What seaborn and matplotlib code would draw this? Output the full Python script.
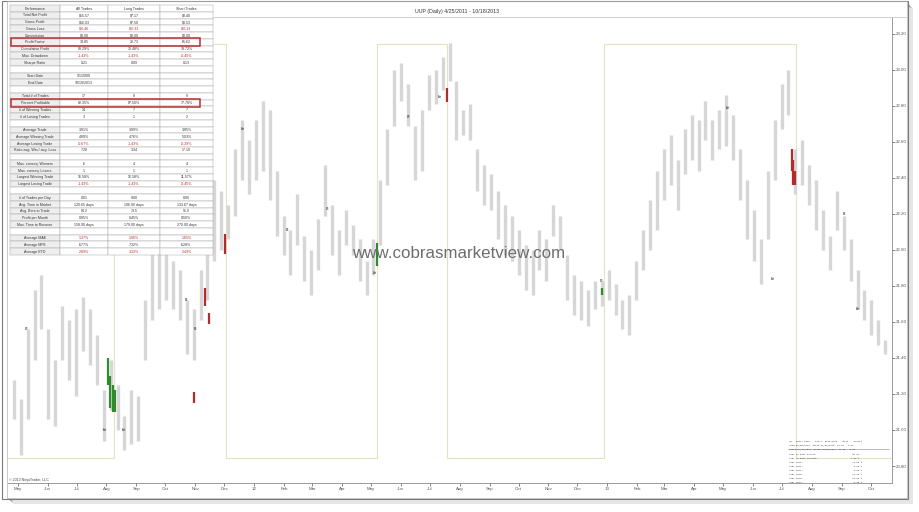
import numpy as np
import pandas as pd
import matplotlib
matplotlib.use('Agg')
import matplotlib.pyplot as plt
import matplotlib.dates as mdates
from matplotlib.patches import Rectangle
import seaborn as sns

TITLE = 'UUP (Daily) 4/25/2011 - 10/18/2013'
FIRST_WEEK = '2011-04-27'
LAST_WEEK = '2013-10-16'

# weekly high / low
WEEK_HIGH = [21.28, 21.17, 21.56, 21.78, 21.86, 21.56, 21.39, 21.69, 21.61, 21.67,
             21.74, 21.67, 21.53, 21.22, 21.39, 21.25, 21.08, 21.22, 21.19, 21.72,
             22.06, 22.00, 22.06, 21.94, 21.89, 21.72, 21.67, 21.89, 22.00, 22.39,
             22.33, 22.25, 22.56, 22.72, 22.61, 22.72, 22.83, 22.78, 22.44, 22.19,
             22.11, 22.31, 22.08, 22.00, 22.17, 22.47, 22.25, 22.11, 22.22, 22.14,
             22.06, 21.94, 22.06, 22.39, 22.67, 23.00, 23.04, 22.92, 22.69, 22.78,
             22.97, 23.00, 23.07, 23.15, 22.94, 22.78, 22.81, 22.56, 22.47, 22.42,
             22.33, 22.25, 22.19, 22.11, 22.03, 22.00, 22.11, 22.06, 22.25, 22.19,
             21.97, 21.86, 21.83, 21.78, 21.83, 21.83, 21.89, 21.81, 21.72, 21.75,
             21.94, 22.11, 22.28, 22.44, 22.56, 22.64, 22.50, 22.67, 22.75, 22.72,
             22.83, 22.72, 22.78, 22.86, 22.75, 22.56, 22.39, 22.22, 22.06, 22.44,
             22.72, 22.92, 23.00, 22.56, 22.61, 22.47, 22.39, 22.22, 22.08, 22.33,
             22.19, 22.06, 21.89, 21.78, 21.72, 21.61, 21.50]
WEEK_LOW = [21.06, 20.86, 21.06, 21.39, 21.56, 21.06, 21.02, 21.39, 21.28, 21.19,
            21.44, 21.36, 21.25, 20.94, 21.11, 21.00, 20.89, 20.92, 20.94, 21.39,
            21.61, 21.67, 21.72, 21.67, 21.61, 21.42, 21.39, 21.61, 21.72, 21.94,
            22.00, 22.06, 22.19, 22.39, 22.31, 22.39, 22.44, 22.28, 22.08, 21.97,
            21.86, 22.03, 21.83, 21.75, 21.89, 22.19, 21.97, 21.86, 22.03, 21.97,
            21.83, 21.75, 21.86, 22.03, 22.36, 22.69, 22.83, 22.69, 22.39, 22.44,
            22.78, 22.81, 22.89, 22.94, 22.61, 22.64, 22.61, 22.33, 22.25, 22.22,
            22.06, 21.97, 21.94, 21.86, 21.78, 21.75, 21.89, 21.83, 22.08, 22.00,
            21.72, 21.64, 21.61, 21.58, 21.67, 21.69, 21.72, 21.64, 21.56, 21.53,
            21.72, 21.89, 22.00, 22.11, 22.28, 22.36, 22.22, 22.42, 22.50, 22.44,
            22.61, 22.50, 22.56, 22.58, 22.50, 22.28, 22.06, 21.94, 21.81, 22.06,
            22.39, 22.67, 22.75, 22.31, 22.36, 22.25, 22.11, 22.00, 21.89, 22.11,
            22.00, 21.83, 21.67, 21.61, 21.53, 21.47, 21.42]

# bars painted by the strategy while in a trade
TRADE_DATES = ['2011-08-03', '2011-08-05', '2011-08-08', '2011-08-10', '2011-10-31',
               '2011-11-11', '2011-11-15', '2011-12-02', '2012-05-07', '2012-07-19',
               '2012-12-27', '2013-07-11', '2013-07-12', '2013-07-15']
TRADE_HIGH = [21.40, 21.30, 21.25, 21.22, 21.21, 21.79, 21.65, 22.09, 22.04, 22.90,
              21.79, 22.56, 22.50, 22.44]
TRADE_LOW = [21.25, 21.12, 21.10, 21.10, 21.15, 21.69, 21.59, 21.98, 21.91, 22.82,
             21.75, 22.44, 22.36, 22.36]
TRADE_SIDE = ['long', 'long', 'long', 'long', 'short', 'short', 'short', 'short',
              'long', 'short', 'long', 'short', 'short', 'short']

# position switches (square line along top / bottom of the panel)
SWITCH_DATES = ['2011-04-21', '2011-08-09', '2011-12-03', '2012-05-07', '2012-07-19',
                '2012-12-29', '2013-07-16', '2013-10-23']
SWITCH_LEVEL = ['low', 'high', 'low', 'high', 'low', 'high', 'low']

# tiny signal labels
SIGNAL_DATES = ['2011-05-10', '2011-07-30', '2011-08-19', '2011-10-23', '2011-11-01',
                '2011-12-20', '2012-02-05', '2012-03-17', '2012-05-05', '2012-06-09',
                '2012-07-11', '2012-12-26', '2013-05-06', '2013-06-22', '2013-09-04',
                '2013-09-18']
SIGNAL_PRICE = [21.56, 21.00, 21.00, 21.72, 21.56, 22.67, 22.11, 22.23, 21.87, 22.74,
                22.85, 21.83, 22.79, 21.84, 22.20, 21.67]
SIGNAL_TEXT = ['BS', 'Exit', 'Exit', 'SE', 'SE', 'Exit', 'SE', 'BS', 'Exit', 'BS',
               'Exit', 'BS', 'Exit', 'Exit', 'SE', 'Exit']

PERF_ROWS = [
    ('Performance', 'All Trades', 'Long Trades', 'Short Trades'),
    ('Total Net Profit', '$15.57', '$7.17', '$8.40'),
    ('Gross Profit', '$16.03', '$7.50', '$8.53'),
    ('Gross Loss', '$-0.46', '$-0.33', '$-0.13'),
    ('Commission', '$0.00', '$0.00', '$0.00'),
    ('Profit Factor', '34.85', '22.73', '65.62'),
    ('Cumulative Profit', '89.29%', '35.48%', '39.72%'),
    ('Max. Drawdown', '-1.43%', '-1.43%', '-0.45%'),
    ('Sharpe Ratio', '0.21', '0.09', '0.13'),
    ('', '', '', ''),
    ('Start Date', '1/1/2000', '', ''),
    ('End Date', '10/19/2013', '', ''),
    ('', '', '', ''),
    ('Total # of Trades', '17', '8', '9'),
    ('Percent Profitable', '82.35%', '87.50%', '77.78%'),
    ('# of Winning Trades', '14', '7', '7'),
    ('# of Losing Trades', '3', '1', '2'),
    ('', '', '', ''),
    ('Average Trade', '3.91%', '3.99%', '3.85%'),
    ('Average Winning Trade', '4.89%', '4.76%', '5.03%'),
    ('Average Losing Trade', '-0.67%', '-1.43%', '-0.29%'),
    ('Ratio avg. Win / avg. Loss', '7.28', '3.34', '17.10'),
    ('', '', '', ''),
    ('Max. conseq. Winners', '6', '4', '4'),
    ('Max. conseq. Losers', '1', '1', '1'),
    ('Largest Winning Trade', '16.58%', '16.58%', '11.57%'),
    ('Largest Losing Trade', '-1.43%', '-1.43%', '-0.45%'),
    ('', '', '', ''),
    ('# of Trades per Day', '0.01', '0.00', '0.00'),
    ('Avg. Time in Market', '120.65 days', '106.00 days', '133.67 days'),
    ('Avg. Bars in Trade', '83.2', '73.5', '91.9'),
    ('Profit per Month', '0.95%', '0.45%', '0.50%'),
    ('Max. Time to Recover', '158.00 days', '179.00 days', '270.00 days'),
    ('', '', '', ''),
    ('Average MAE', '1.37%', '1.06%', '1.65%'),
    ('Average MFE', '6.77%', '7.32%', '6.28%'),
    ('Average ETD', '2.89%', '3.33%', '2.43%'),
]
RED_ROWS = ['Gross Loss', 'Max. Drawdown', 'Average Losing Trade',
            'Largest Losing Trade', 'Average MAE', 'Average ETD']
BOXED_ROWS = ['Profit Factor', 'Percent Profitable']

SUMMARY_LINES = [
    'Sp   Entry Date    Entry  Exit Date    Exit    Profit',
    'Long 05/06/2013  ##### 07/10/2013  ##.##   #.##',
    'Short 07/11/2013  ##### 10/18/2013  ##.##   #.##',
    'Year To Date Profit:                          $1.06',
    'Year To Date Percent:                        4.85 %',
    'Year 2013:                                    11.60 %',
    'Year 2012:                                     5.00 %',
    'Year 2011:                                     5.00 %',
    'Year 2010:                                    11.70 %',
    'Year 2009:                                    20.00 %',
    'Year 2007:                                     5.30 %',
]

GRAY_BAR = '#d6d6d6'
RED = '#b52b2b'
GREEN = '#2e8b2e'
LINE_Y = '#e6e2bf'

sns.set_theme(style='white')
plt.rcParams['font.family'] = ['Liberation Sans', 'DejaVu Sans']

W, H = 920, 512
fig = plt.figure(figsize=(W / 100, H / 100), dpi=100)
fig.patch.set_facecolor('white')

# ---- background: drop shadow + white sheet
bg = fig.add_axes([0, 0, 1, 1], zorder=0)
bg.set_xlim(0, W)
bg.set_ylim(H, 0)
bg.axis('off')
for k, g in enumerate(['#9a9a9a', '#b4b4b4', '#cfcfcf', '#e6e6e6']):
    bg.add_patch(Rectangle((10 + k, 5 + k), 900, 496, fc=g, ec='none'))
bg.add_patch(Rectangle((2, 1), 906, 498, fc='white', ec='#7a7a7a', lw=0.8))

# ---- price panel
ax = fig.add_axes([8 / W, (H - 483) / H, 884 / W, 466 / H], zorder=2)
ax.patch.set_alpha(0)

weeks = pd.date_range(FIRST_WEEK, LAST_WEEK, periods=len(WEEK_HIGH))
bars = pd.DataFrame({
    'date': np.concatenate([weeks, weeks]),
    'price': np.concatenate([WEEK_HIGH, WEEK_LOW]),
    'bar': np.concatenate([np.arange(len(weeks)), np.arange(len(weeks))]),
})
sns.lineplot(data=bars, x='date', y='price', units='bar', estimator=None,
             color=GRAY_BAR, lw=2.4, solid_capstyle='butt', ax=ax, legend=False)

trades = pd.DataFrame({'date': pd.to_datetime(TRADE_DATES), 'hi': TRADE_HIGH,
                       'lo': TRADE_LOW, 'side': TRADE_SIDE})
for side, col in [('long', GREEN), ('short', RED)]:
    sub = trades[trades.side == side]
    ax.vlines(sub.date, sub.lo, sub.hi, color=col, lw=1.6, zorder=3)

sw = pd.to_datetime(SWITCH_DATES)
top_lvl, bot_lvl = 23.144, 20.844
xs, ys = [], []
for i, lvl in enumerate(SWITCH_LEVEL):
    yv = top_lvl if lvl == 'high' else bot_lvl
    xs += [sw[i], sw[i + 1]]
    ys += [yv, yv]
ax.plot(xs, ys, color=LINE_Y, lw=0.8, zorder=1)

for d, p, t in zip(pd.to_datetime(SIGNAL_DATES), SIGNAL_PRICE, SIGNAL_TEXT):
    ax.text(d, p, t, fontsize=1.8, color='#222222', ha='center', va='center', zorder=4)

ax.set_xlim(pd.Timestamp('2011-04-21'), pd.Timestamp('2013-10-23'))
ax.set_ylim(20.7056, 23.294)
ax.yaxis.tick_right()
ax.set_yticks([20.8, 21.0, 21.2, 21.4, 21.6, 21.8, 22.0, 22.2, 22.4, 22.6, 22.8, 23.0, 23.2])
ax.yaxis.set_major_formatter(plt.FormatStrFormatter('%.2f'))
ax.xaxis.set_major_locator(mdates.MonthLocator())
ax.xaxis.set_major_formatter(plt.FuncFormatter(
    lambda v, _: mdates.num2date(v).strftime('%y') if mdates.num2date(v).month == 1
    else mdates.num2date(v).strftime('%b')))
ax.tick_params(axis='both', labelsize=3.2, colors='#555555', length=2, width=0.5,
               direction='out', pad=1)
ax.tick_params(axis='y', right=True, left=False)
ax.tick_params(axis='x', bottom=True)
ax.set_xlabel('')
ax.set_ylabel('')
for s in ['top', 'left']:
    ax.spines[s].set_visible(False)
for s in ['right', 'bottom']:
    ax.spines[s].set_color('#8c8c8c')
    ax.spines[s].set_linewidth(0.6)

# ---- overlay in pixel coordinates
ov = fig.add_axes([0, 0, 1, 1], zorder=5)
ov.set_xlim(0, W)
ov.set_ylim(H, 0)
ov.axis('off')
ov.patch.set_alpha(0)

ov.add_patch(Rectangle((7, 1), 900, 497, fc='none', ec='#b0b0b0', lw=0.5))
ov.plot([213, 907], [17, 17], color='#c8c8c8', lw=0.6)

ov.text(457, 12, TITLE, fontsize=3.8, color='#333333', ha='center', va='center')
ov.text(459, 253, 'www.cobrasmarketview.com', fontsize=12.2, color='#6e6e6e',
        ha='center', va='center')
ov.text(9, 482, '\u00a9 2013 NinjaTrader, LLC', fontsize=2.6, color='#444444',
        ha='left', va='bottom')

# performance table
col_x = [10, 60, 108, 160, 213]
top, row_h = 5, 250 / len(PERF_ROWS)
for r, row in enumerate(PERF_ROWS):
    y0 = top + r * row_h
    red = row[0] in RED_ROWS
    for c in range(4):
        fc = '#eeeeee' if (c == 0 and row[0]) else 'white'
        ov.add_patch(Rectangle((col_x[c], y0), col_x[c + 1] - col_x[c], row_h,
                               fc=fc, ec='#a8a8a8', lw=0.35, zorder=6))
        if row[c]:
            color = RED if (red and c > 0) else '#333333'
            ov.text((col_x[c] + col_x[c + 1]) / 2, y0 + row_h / 2 + 0.2, row[c],
                    fontsize=2.6, color=color, ha='center', va='center', zorder=7)
    if row[0] in BOXED_ROWS:
        ov.add_patch(Rectangle((11, y0 - 0.6), 189, row_h + 1.2, fc='none',
                               ec='#b23030', lw=1.1, zorder=8))

# summary block bottom right
ov.plot([788, 889], [448.5, 448.5], color='#888888', lw=0.4, zorder=6)
for i, line in enumerate(SUMMARY_LINES):
    yy = 441 + i * 3.9 + (2 if i > 2 else 0)
    ov.text(789, yy, line, fontsize=1.7, color='#333333', ha='left', va='center',
            family='DejaVu Sans Mono', zorder=7)

fig.savefig('out.png', dpi=100, facecolor='white')
